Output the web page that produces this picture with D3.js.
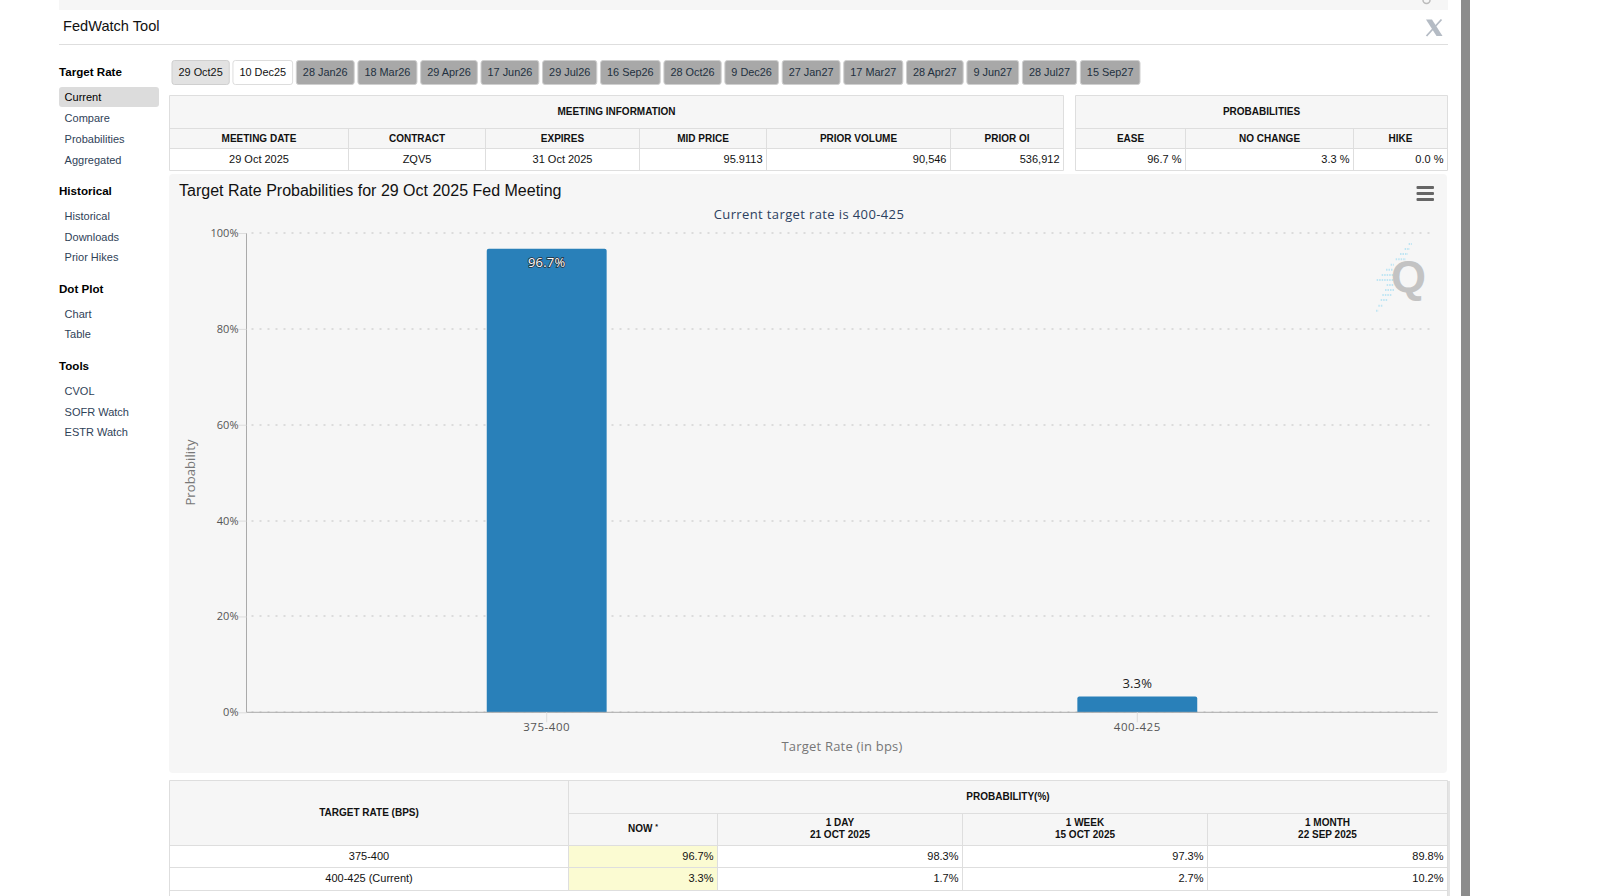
<!DOCTYPE html>
<html>
<head>
<meta charset="utf-8">
<title>FedWatch Tool</title>
<script src="https://cdn.jsdelivr.net/npm/d3@7"></script>
<style>
  html, body { margin: 0; padding: 0; background: #fff; overflow: hidden; }
  svg { display: block; }
  text { font-family: "Liberation Sans", Arial, sans-serif; }
  .hc text { font-family: "Open Sans", sans-serif; }
</style>
</head>
<body>
<div id="display"></div>
<script>
// chart data
const categories = ['375-400', '400-425'];
const probabilities = [96.7, 3.3];
const yTicks = [0, 20, 40, 60, 80, 100];

// tabs
const meetingTabs = ['29 Oct25', '10 Dec25', '28 Jan26', '18 Mar26', '29 Apr26', '17 Jun26', '29 Jul26',
  '16 Sep26', '28 Oct26', '9 Dec26', '27 Jan27', '17 Mar27', '28 Apr27', '9 Jun27', '28 Jul27', '15 Sep27'];

// sidebar
const navHeadings = ['Target Rate', 'Historical', 'Dot Plot', 'Tools'];
const navItems = [
  ['Current', 'Compare', 'Probabilities', 'Aggregated'],
  ['Historical', 'Downloads', 'Prior Hikes'],
  ['Chart', 'Table'],
  ['CVOL', 'SOFR Watch', 'ESTR Watch']
];

// top tables
const meetingHeaders = ['MEETING DATE', 'CONTRACT', 'EXPIRES', 'MID PRICE', 'PRIOR VOLUME', 'PRIOR OI'];
const meetingValues = ['29 Oct 2025', 'ZQV5', '31 Oct 2025', '95.9113', '90,546', '536,912'];
const probHeaders = ['EASE', 'NO CHANGE', 'HIKE'];
const probValues = ['96.7 %', '3.3 %', '0.0 %'];

// bottom table
const rateRows = ['375-400', '400-425 (Current)'];
const nowValues = ['96.7%', '3.3%'];
const dayValues = ['98.3%', '1.7%'];
const weekValues = ['97.3%', '2.7%'];
const monthValues = ['89.8%', '10.2%'];
const periodHeaders = [['1 DAY', '21 OCT 2025'], ['1 WEEK', '15 OCT 2025'], ['1 MONTH', '22 SEP 2025']];

// layout
const W = 1602, H = 896;
const left = 59, right = 1448;
const lineCol = '#dedede', headBg = '#f6f6f6';

const svg = d3.select('#display').append('svg').attr('width', W).attr('height', H);

function label(g, str, x, y, opt) {
  opt = opt || {};
  return g.append('text')
    .attr('x', x).attr('y', y)
    .attr('text-anchor', opt.anchor || 'start')
    .attr('font-size', opt.size || 11)
    .attr('font-weight', opt.bold ? 'bold' : 'normal')
    .attr('letter-spacing', opt.spacing || null)
    .attr('fill', opt.fill || '#111')
    .text(str);
}

function rule(g, x1, y1, x2, y2, col) {
  g.append('line').attr('x1', x1).attr('y1', y1).attr('x2', x2).attr('y2', y2)
    .attr('stroke', col || lineCol).attr('stroke-width', 1);
}

// page frame
svg.append('rect').attr('x', left).attr('y', 0).attr('width', right - left).attr('height', 10).attr('fill', headBg);
svg.append('path').attr('d', 'M1423 0 A3.5 3.5 0 0 0 1430 0').attr('fill', 'none').attr('stroke', '#bbb').attr('stroke-width', 1.5);
svg.append('rect').attr('x', 1461).attr('y', 0).attr('width', 9).attr('height', H).attr('fill', '#8c8c8c');
label(svg, 'FedWatch Tool', 63, 31, {size: 14.6});
rule(svg, left, 44.5, right, 44.5);

// X icon
svg.append('path').attr('d', 'M1426 19.5 L1432 19.5 L1442.5 36 L1436.5 36 Z').attr('fill', '#b4bbc4');
svg.append('path').attr('d', 'M1441.5 19.5 L1426.5 36').attr('stroke', '#b4bbc4').attr('stroke-width', 1.8).attr('fill', 'none');

// sidebar
const headingY = [75.5, 194.5, 293, 369.5];
const itemY = [[101, 122, 143, 164], [220, 241, 261], [318, 338], [395, 416, 436]];
const nav = svg.append('g');
nav.append('rect').attr('x', left).attr('y', 87).attr('width', 100).attr('height', 20).attr('rx', 3).attr('fill', '#dcdcdc');
navHeadings.forEach((h, i) => {
  label(nav, h, left, headingY[i], {size: 11.6, bold: true, fill: '#000'});
  navItems[i].forEach((it, j) => {
    label(nav, it, 64.6, itemY[i][j], {size: 11, fill: (i === 0 && j === 0) ? '#000' : '#2f4258'});
  });
});

// meeting tabs, width follows the label
const tabs = svg.append('g');
let tabX = 172;
meetingTabs.forEach((t, i) => {
  const g = tabs.append('g');
  const rect = g.append('rect').attr('y', 60.5).attr('height', 24).attr('rx', 2.5)
    .attr('fill', i === 0 ? '#e2e2e2' : i === 1 ? '#fff' : '#a8a8a8')
    .attr('stroke', i === 1 ? '#ddd' : '#cfcfcf');
  const txt = label(g, t, tabX + 6.5, 76.3, {size: 10.9, fill: i < 2 ? '#111' : '#22303f'});
  const w = txt.node().getComputedTextLength() + 13.05;
  rect.attr('x', tabX).attr('width', w);
  tabX += w + 3.7;
});

// small info table: title row, header row, value row
function infoTable(title, headers, values, edges, rightFrom) {
  const g = svg.append('g');
  const x0 = edges[0], x1 = edges[edges.length - 1];
  const top = 95.5, r1 = 128.5, r2 = 148.5, bot = 170.5;
  g.append('rect').attr('x', x0).attr('y', top).attr('width', x1 - x0).attr('height', r2 - top).attr('fill', headBg);
  g.append('rect').attr('x', x0).attr('y', r2).attr('width', x1 - x0).attr('height', bot - r2).attr('fill', '#fff');
  [top, r1, r2, bot].forEach(y => rule(g, x0, y, x1, y));
  rule(g, x0, top, x0, bot);
  rule(g, x1, top, x1, bot);
  edges.slice(1, -1).forEach(x => rule(g, x, r1, x, bot));
  label(g, title, (x0 + x1) / 2, 115, {anchor: 'middle', size: 10, bold: true});
  headers.forEach((h, i) => {
    const mid = (edges[i] + edges[i + 1]) / 2;
    label(g, h, mid, 141.5, {anchor: 'middle', size: 10, bold: true});
    if (i >= rightFrom) label(g, values[i], edges[i + 1] - 4, 163.3, {anchor: 'end'});
    else label(g, values[i], mid, 163.3, {anchor: 'middle'});
  });
}
infoTable('MEETING INFORMATION', meetingHeaders, meetingValues, [169.5, 348.5, 485.5, 639.5, 766.5, 950.5, 1063.5], 3);
infoTable('PROBABILITIES', probHeaders, probValues, [1075.5, 1185.5, 1353.5, 1447.5], 0);

// chart panel
const hc = svg.append('g').attr('class', 'hc');
hc.append('rect').attr('x', 169).attr('y', 174).attr('width', 1278).attr('height', 599).attr('rx', 4).attr('fill', headBg);
svg.append('text').attr('x', 179).attr('y', 196).attr('font-size', 16).attr('fill', '#111')
  .text('Target Rate Probabilities for 29 Oct 2025 Fed Meeting');

// menu icon
[187.5, 193.5, 199.5].forEach(y => {
  hc.append('rect').attr('x', 1416.5).attr('y', y - 1.5).attr('width', 17.5).attr('height', 3).attr('rx', 1).attr('fill', '#666');
});

label(hc, 'Current target rate is 400-425', 809, 219, {anchor: 'middle', size: 13, fill: '#2c4160', spacing: 0.38});

// watermark
const streaks = [[222, 236, 246], [237, 224, 240], [252, 210, 234], [268, 197, 228], [284, 182, 192],
  [299, 168, 190], [315, 155, 190], [330, 140, 190], [345, 170, 190], [360, 165, 195], [375, 157, 187],
  [390, 152, 172], [407, 145, 158], [422, 138, 146]];
streaks.forEach(s => {
  hc.append('line').attr('x1', 1330 + s[1] / 3).attr('x2', 1330 + s[2] / 3)
    .attr('y1', 170 + s[0] / 3).attr('y2', 170 + s[0] / 3)
    .attr('stroke', '#bfe5f3').attr('stroke-width', 2).attr('stroke-dasharray', '1.5 1');
});
svg.append('text').attr('x', 1408.5).attr('y', 292).attr('text-anchor', 'middle')
  .attr('font-size', 45).attr('font-weight', 'bold').attr('fill', '#c3c3c3').text('Q');

// scales
const axisX = 246.5, axisEnd = 1437.8;
const y = d3.scaleLinear().domain([0, 100]).range([712.3, 233]);
const x = d3.scaleBand().domain(categories).range([251.4, 1432.6]).paddingInner(0.797).paddingOuter(0.3985);

// grid
hc.append('g').selectAll('line').data(yTicks).enter().append('line')
  .attr('x1', axisX + 5).attr('x2', axisEnd - 4)
  .attr('y1', d => Math.round(y(d))).attr('y2', d => Math.round(y(d)))
  .attr('stroke', '#dcdcdc').attr('stroke-width', 2).attr('stroke-dasharray', '2 6');

// bars with slightly rounded top corners
const rad = 2;
hc.append('g').selectAll('path').data(categories).enter().append('path')
  .attr('fill', '#2980b9')
  .attr('d', (d, i) => {
    const x0 = x(d), x1 = x(d) + x.bandwidth(), top = y(probabilities[i]), base = y(0);
    return `M${x0},${base}V${top + rad}Q${x0},${top} ${x0 + rad},${top}H${x1 - rad}Q${x1},${top} ${x1},${top + rad}V${base}Z`;
  });

// bar labels
hc.append('g').selectAll('text').data(categories).enter().append('text')
  .attr('x', d => x(d) + x.bandwidth() / 2)
  .attr('y', (d, i) => probabilities[i] > 50 ? y(probabilities[i]) + 18.5 : y(probabilities[i]) - 8)
  .attr('text-anchor', 'middle').attr('font-size', 13)
  .attr('letter-spacing', 0.2)
  .attr('fill', (d, i) => probabilities[i] > 50 ? '#fff' : '#222')
  .attr('stroke', (d, i) => probabilities[i] > 50 ? '#26303a' : 'none')
  .attr('stroke-width', 1.6)
  .attr('paint-order', 'stroke')
  .text((d, i) => probabilities[i] + '%');

// y axis
const yAxis = hc.append('g').attr('transform', 'translate(' + axisX + ',0)')
  .call(d3.axisLeft(y).tickValues(yTicks).tickSize(8).tickPadding(0).tickFormat(d => d + '%'));
yAxis.select('.domain').attr('stroke', '#aaa').attr('d', `M0,${y(100)}V${y(0)}`);
yAxis.selectAll('.tick line').attr('stroke', '#ddd');
yAxis.selectAll('.tick text').attr('font-size', 11).attr('fill', '#555').attr('dy', '0.32em').attr('font-family', '"Open Sans"');

// x axis
const xAxis = hc.append('g').attr('transform', 'translate(0,' + y(0) + ')')
  .call(d3.axisBottom(x).tickSize(10).tickPadding(1));
xAxis.select('.domain').attr('stroke', '#aaa').attr('d', `M${axisX},0H${axisEnd}`);
xAxis.selectAll('.tick line').attr('stroke', '#ddd');
xAxis.selectAll('.tick text').attr('font-size', 11.5).attr('letter-spacing', 0.55).attr('fill', '#555').attr('font-family', '"Open Sans"');

// axis titles
label(hc, 'Target Rate (in bps)', 842, 751, {anchor: 'middle', size: 13, fill: '#777', spacing: 0.2});
hc.append('text').attr('transform', 'translate(195,472.5) rotate(-90)').attr('text-anchor', 'middle')
  .attr('font-size', 13).attr('letter-spacing', 0.1).attr('fill', '#777').text('Probability');

// bottom table
const bt = svg.append('g');
const cols = [169.5, 568.5, 717.5, 962.5, 1207.5, 1447.5];
const rowsY = [780.5, 813.5, 845.5, 867.5, 890.5];
bt.append('rect').attr('x', 1448).attr('y', 781).attr('width', 2).attr('height', 115).attr('fill', '#e4e4e4');
bt.append('rect').attr('x', cols[0]).attr('y', rowsY[0]).attr('width', cols[5] - cols[0]).attr('height', rowsY[2] - rowsY[0]).attr('fill', headBg);
bt.append('rect').attr('x', cols[1]).attr('y', rowsY[2]).attr('width', cols[2] - cols[1]).attr('height', rowsY[4] - rowsY[2]).attr('fill', '#fbfbd2');
rule(bt, cols[0], rowsY[0], cols[5], rowsY[0]);
rule(bt, cols[1], rowsY[1], cols[5], rowsY[1]);
[2, 3, 4].forEach(i => rule(bt, cols[0], rowsY[i], cols[5], rowsY[i]));
rule(bt, cols[0], rowsY[0], cols[0], H);
rule(bt, cols[5], rowsY[0], cols[5], H);
rule(bt, cols[1], rowsY[0], cols[1], rowsY[4]);
[2, 3, 4].forEach(i => rule(bt, cols[i], rowsY[1], cols[i], rowsY[4]));

label(bt, 'TARGET RATE (BPS)', 369, 816, {anchor: 'middle', size: 10, bold: true});
label(bt, 'PROBABILITY(%)', 1008, 800, {anchor: 'middle', size: 10, bold: true});
const nowHead = label(bt, 'NOW ', 643, 832, {anchor: 'middle', size: 10, bold: true});
nowHead.append('tspan').attr('dy', -3).attr('font-size', 7).text('*');
periodHeaders.forEach((p, i) => {
  const mid = (cols[i + 2] + cols[i + 3]) / 2;
  label(bt, p[0], mid, 826.3, {anchor: 'middle', size: 10, bold: true});
  label(bt, p[1], mid, 838, {anchor: 'middle', size: 10, bold: true});
});
const rowBase = [860, 882];
rateRows.forEach((r, i) => {
  label(bt, r, 369, rowBase[i], {anchor: 'middle'});
  [nowValues, dayValues, weekValues, monthValues].forEach((vals, c) => {
    label(bt, vals[i], cols[c + 2] - 4, rowBase[i], {anchor: 'end'});
  });
});
</script>
</body>
</html>
